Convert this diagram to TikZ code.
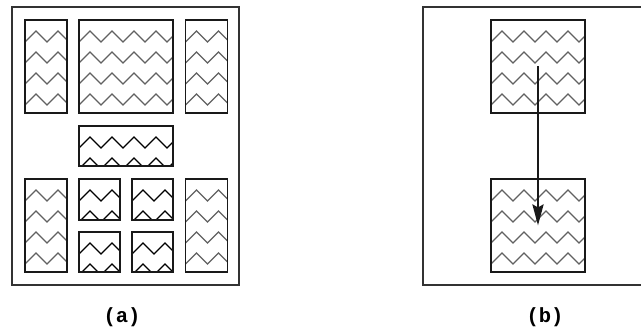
\documentclass[tikz,border=0pt]{standalone}
\usepackage{fontspec}
\setmonofont{Liberation Mono}
\usepackage{tikz}
\usetikzlibrary{arrows.meta,positioning,calc}

\begin{document}
\begin{tikzpicture}[
    x=1pt, y=-1pt,
    frameBox/.style={
        rectangle, draw=black!80, line width=1.7pt, inner sep=0pt
    },
    cellBox/.style={
        rectangle, draw=black!90, line width=1.9pt, inner sep=0pt,
        path picture={
            \foreach \r in {0,...,4}
                \draw[draw=#1, line width=1.3pt, line join=miter]
                    ([yshift={-22pt-\r*21pt}]path picture bounding box.north west)
                    \foreach \j in {1,...,6} { -- ++(11pt,11pt) -- ++(11pt,-11pt) };
        }
    },
    cellBox/.default=black!62,
    moveArrow/.style={
        -{Stealth[length=21pt, width=11pt, inset=3pt]}, line width=2.8pt, draw=black!90
    },
    capLabel/.style={
        font=\ttfamily\bfseries\fontsize{20.5}{22}\selectfont
    }
]

\clip (0,0) rectangle (641,331);

% Left: full layout (a)
\node[frameBox, minimum width=227pt, minimum height=278pt] (aFrame) at (125.5,146) {};

\node[cellBox, minimum width=42pt, minimum height=93pt] (aColLT) at (46,66.5) {};
\node[cellBox, minimum width=94pt, minimum height=93pt] (aTop) at (126,66.5) {};
\node[cellBox, minimum width=42pt, minimum height=93pt] (aColRT) at (206.5,66.5) {};

\node[cellBox=black, minimum width=94pt, minimum height=40pt] (aMid) at (126,146) {};

\node[cellBox, minimum width=42pt, minimum height=93pt] (aColLB) at (46,225.5) {};
\node[cellBox, minimum width=42pt, minimum height=93pt] (aColRB) at (206.5,225.5) {};

\node[cellBox=black, minimum width=41pt, minimum height=41pt] (aSmallA) at (99.5,199.5) {};
\node[cellBox=black, minimum width=41pt, minimum height=41pt] (aSmallB) at (152.5,199.5) {};
\node[cellBox=black, minimum width=41pt, minimum height=40pt] (aSmallC) at (99.5,252) {};
\node[cellBox=black, minimum width=41pt, minimum height=40pt] (aSmallD) at (152.5,252) {};

\node[capLabel] (capA) at (122,317) {(a)};

% Right: moved block (b)
\node[frameBox, minimum width=227pt, minimum height=278pt] (bFrame) at (536.5,146) {};

\node[cellBox, minimum width=94pt, minimum height=93pt] (bTop) at (538,66.5) {};
\node[cellBox, minimum width=94pt, minimum height=93pt] (bBot) at (538,225.5) {};

\draw[moveArrow] (bTop.center) -- (bBot.center);

\node[capLabel] (capB) at (545,317) {(b)};

\end{tikzpicture}
\end{document}
